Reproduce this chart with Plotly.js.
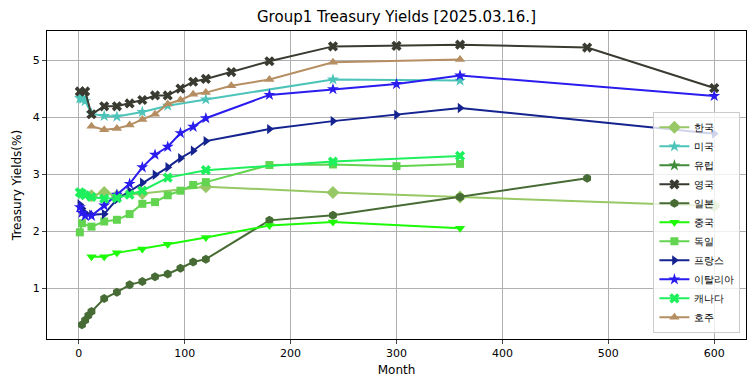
<!DOCTYPE html>
<html><head><meta charset="utf-8">
<script src="https://cdn.plot.ly/plotly-3.0.1.min.js"></script>
<style>html,body{margin:0;padding:0;background:#fff;}#chart{width:755px;height:391px;}</style>
</head><body><div id="chart"></div>
<script>
// ---- data (months, yields %) ----
const seriesNames = ["한국","미국","유럽","영국","일본","중국","독일","프랑스","이탈리아","캐나다","호주"];

const krMonths = [12, 24, 36, 60, 120, 240, 360, 600];
const krYields = [2.62, 2.68, 2.62, 2.66, 2.78, 2.68, 2.60, 2.44];

const usMonths = [1, 2, 3, 4, 6, 12, 24, 36, 60, 84, 120, 240, 360];
const usYields = [4.33, 4.34, 4.33, 4.32, 4.28, 4.06, 4.02, 4.01, 4.09, 4.20, 4.31, 4.66, 4.64];

// Europe has no values in the chart (legend entry only)
const euMonths = [null];
const euYields = [null];

const ukMonths = [1, 6, 12, 24, 36, 48, 60, 72, 84, 96, 108, 120, 144, 180, 240, 300, 360, 480, 600];
const ukYields = [4.45, 4.45, 4.05, 4.19, 4.19, 4.24, 4.30, 4.38, 4.38, 4.50, 4.62, 4.67, 4.79, 4.98, 5.24, 5.25, 5.27, 5.22, 4.51];

const jpMonths = [3, 6, 9, 12, 24, 36, 48, 60, 72, 84, 96, 108, 120, 180, 240, 360, 480];
const jpYields = [0.36, 0.44, 0.52, 0.59, 0.82, 0.93, 1.06, 1.12, 1.20, 1.25, 1.35, 1.46, 1.51, 2.19, 2.28, 2.60, 2.93];

const cnMonths = [12, 24, 36, 60, 84, 120, 180, 240, 360];
const cnYields = [1.55, 1.55, 1.62, 1.69, 1.77, 1.89, 2.10, 2.16, 2.05];

const deMonths = [1, 3, 12, 24, 36, 48, 60, 72, 84, 96, 108, 120, 180, 240, 300, 360];
const deYields = [1.98, 2.14, 2.08, 2.17, 2.20, 2.30, 2.48, 2.51, 2.63, 2.71, 2.81, 2.86, 3.16, 3.17, 3.14, 3.18];

const frMonths = [1, 3, 6, 12, 24, 36, 48, 60, 72, 84, 96, 108, 120, 180, 240, 300, 360, 600];
const frYields = [2.47, 2.40, 2.32, 2.29, 2.30, 2.56, 2.70, 2.85, 2.99, 3.12, 3.28, 3.41, 3.58, 3.79, 3.93, 4.04, 4.16, 3.71];

const itMonths = [1, 3, 6, 12, 24, 36, 48, 60, 72, 84, 96, 108, 120, 180, 240, 300, 360, 600];
const itYields = [2.42, 2.32, 2.27, 2.27, 2.45, 2.64, 2.83, 3.12, 3.34, 3.48, 3.72, 3.83, 3.98, 4.39, 4.49, 4.58, 4.73, 4.37];

const caMonths = [1, 3, 6, 12, 24, 36, 48, 60, 84, 120, 240, 360];
const caYields = [2.68, 2.66, 2.63, 2.60, 2.57, 2.58, 2.64, 2.71, 2.94, 3.07, 3.22, 3.32];

const auMonths = [12, 24, 36, 48, 60, 72, 84, 96, 108, 120, 144, 180, 240, 360];
const auYields = [3.84, 3.78, 3.80, 3.86, 3.96, 4.05, 4.23, 4.30, 4.40, 4.43, 4.55, 4.66, 4.96, 5.01];

// ---- styles ----
const styles = [
  {color:"#98c865", symbol:"diamond", size:10},
  {color:"#4cc4b9", symbol:"star", size:9},
  {color:"#3e8c3a", symbol:"star", size:9},
  {color:"#393a30", symbol:"x", size:9},
  {color:"#476b34", symbol:"hexagon", size:9},
  {color:"#1cfa08", symbol:"triangle-down", size:9},
  {color:"#63d450", symbol:"square", size:8},
  {color:"#14238f", symbol:"triangle-right", size:9},
  {color:"#2a1cee", symbol:"star", size:9},
  {color:"#1eef5c", symbol:"x", size:9},
  {color:"#b58e62", symbol:"triangle-up", size:9}
];
const xs = [krMonths, usMonths, euMonths, ukMonths, jpMonths, cnMonths, deMonths, frMonths, itMonths, caMonths, auMonths];
const ys = [krYields, usYields, euYields, ukYields, jpYields, cnYields, deYields, frYields, itYields, caYields, auYields];

const traces = seriesNames.map((n, i) => ({
  type: "scatter", mode: "lines+markers", name: n,
  x: xs[i], y: ys[i],
  line: {color: styles[i].color, width: 2},
  marker: {color: styles[i].color, symbol: styles[i].symbol, size: styles[i].size, line: {width: 0}}
}));

const layout = {
  width: 755, height: 391,
  margin: {l: 47, r: 9, t: 31, b: 52},
  paper_bgcolor: "#fff", plot_bgcolor: "#fff",
  font: {family: "DejaVu Sans", color: "#000"},
  title: {text: "Group1 Treasury Yields [2025.03.16.]", font: {size: 15, family: "DejaVu Sans"},
          x: 0.5, xref: "paper", xanchor: "center", y: 1 - 17/391, yanchor: "middle", yref: "container"},
  xaxis: {range: [-30, 630], tickvals: [0,100,200,300,400,500,600], ticks: "outside", ticklen: 4,
          tickfont: {size: 11}, showgrid: true, gridcolor: "#b0b0b0", gridwidth: 1,
          showline: true, linecolor: "#000", linewidth: 1, mirror: true, zeroline: false,
          title: {text: "Month", font: {size: 12}, standoff: 6}},
  yaxis: {range: [0.11, 5.51], tickvals: [1,2,3,4,5], ticks: "outside", ticklen: 4,
          tickfont: {size: 11}, showgrid: true, gridcolor: "#b0b0b0", gridwidth: 1,
          showline: true, linecolor: "#000", linewidth: 1, mirror: true, zeroline: false,
          title: {text: "Treasury Yields(%)", font: {size: 12}, standoff: 8}},
  showlegend: true,
  legend: {x: 0.992, xanchor: "right", y: 0.02, yanchor: "bottom",
           bgcolor: "rgba(255,255,255,0.8)", bordercolor: "#cccccc", borderwidth: 1,
           font: {size: 10}, itemwidth: 30, tracegroupgap: 0}
};

Plotly.newPlot("chart", traces, layout, {staticPlot: true});
</script></body></html>
